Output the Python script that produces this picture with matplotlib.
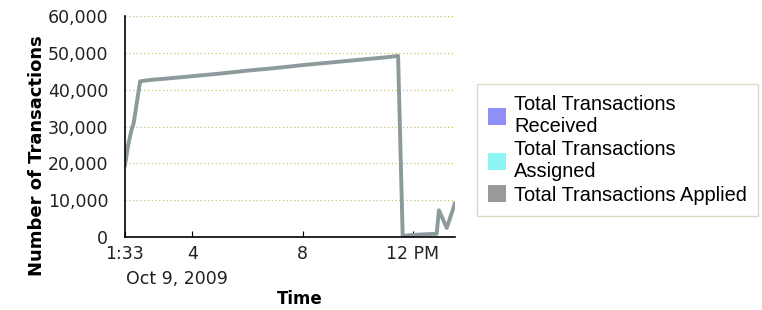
import matplotlib.pyplot as plt
from matplotlib.patches import Patch

# Applied transactions over time (Oct 9, 2009)
times = ["01:33", "01:40", "01:47", "01:52", "02:06", "02:30", "03:00", "04:00",
         "05:00", "06:00", "07:00", "08:00", "09:00", "10:00", "11:00", "11:28",
         "11:38", "12:00", "12:30", "12:52", "12:57", "13:14", "13:32"]
applied = [19500, 25000, 29000, 31000, 42300, 42700, 43000, 43700,
           44400, 45200, 45900, 46700, 47400, 48100, 48800, 49200,
           300, 600, 800, 900, 7300, 2500, 9200]

series_names = ["Total Transactions\nReceived", "Total Transactions\nAssigned",
                "Total Transactions Applied"]
series_colors = ["#8f8ff5", "#8ef5f5", "#999999"]

tick_hours = [1.55, 4, 8, 12]
tick_labels = ["1:33", "4", "8", "12 PM"]
yticks = [0, 10000, 20000, 30000, 40000, 50000, 60000]

hours = [int(t[:2]) + int(t[3:]) / 60 for t in times]

fig = plt.figure(figsize=(7.62, 3.10), dpi=100)
ax = fig.add_axes([0.164, 0.235, 0.433, 0.713])

ax.plot(hours, applied, color="#8c9a9c", lw=2.8, solid_joinstyle="round")

ax.set_xlim(1.55, 13.53)
ax.set_ylim(0, 60000)
ax.set_yticks(yticks)
ax.set_yticklabels([f"{v:,}" for v in yticks])
ax.set_xticks(tick_hours)
ax.set_xticklabels(tick_labels)
ax.tick_params(axis="y", length=0, pad=12, labelsize=12.5, labelcolor="#222222")
ax.tick_params(axis="x", direction="in", length=4, pad=6, labelsize=12.5,
               labelcolor="#222222")
ax.grid(axis="y", color="#c8c878", linestyle=(0, (1, 2)), lw=0.9)
ax.set_axisbelow(True)
for s in ["top", "right"]:
    ax.spines[s].set_visible(False)
ax.spines["left"].set_linewidth(1.2)
ax.spines["bottom"].set_linewidth(1.2)

ax.text(0.003, -0.19, "Oct 9, 2009", transform=ax.transAxes, ha="left",
        va="center", fontsize=12.5, color="#222222")
ax.set_xlabel("Time", fontweight="bold", fontsize=12)
ax.xaxis.set_label_coords(0.53, -0.24)
ax.xaxis.label.set_va("top")
ax.set_ylabel("Number of Transactions", fontweight="bold", fontsize=13)
ax.yaxis.set_label_coords(-0.24, 0.37)

handles = [Patch(facecolor=c, edgecolor="none") for c in series_colors]
leg = fig.legend(handles, series_names, loc="center left",
                 bbox_to_anchor=(0.626, 0.516), frameon=True, fancybox=False,
                 prop={"family": "Liberation Sans", "size": 14.4},
                 handlelength=0.9, handleheight=0.9, handletextpad=0.4,
                 labelspacing=0.2, borderpad=0.55, borderaxespad=0)
leg.get_frame().set_edgecolor("#d2d2b8")
leg.get_frame().set_linewidth(1.0)

fig.savefig("out.png", dpi=100)
